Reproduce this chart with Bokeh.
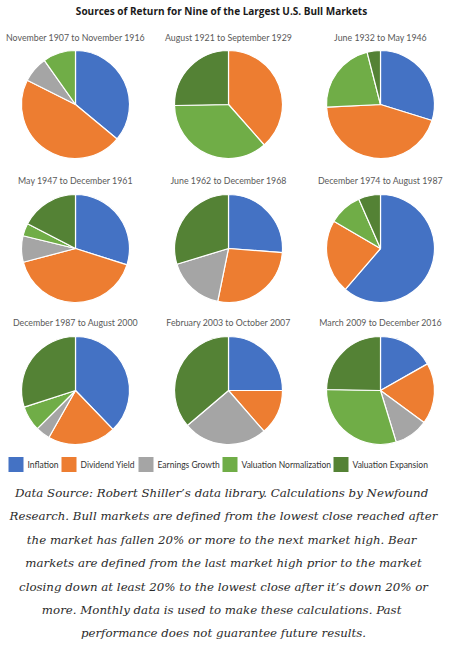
import numpy as np
from bokeh.plotting import figure
from bokeh.models import Range1d, ColumnDataSource
from bokeh.core.properties import value
from bokeh.embed import file_html
from bokeh.resources import INLINE

# ---- data ----
title = "Sources of Return for Nine of the Largest U.S. Bull Markets"
periods = [
    "November 1907 to November 1916",
    "August 1921 to September 1929",
    "June 1932 to May 1946",
    "May 1947 to December 1961",
    "June 1962 to December 1968",
    "December 1974 to August 1987",
    "December 1987 to August 2000",
    "February 2003 to October 2007",
    "March 2009 to December 2016",
]
components = ["Inflation", "Dividend Yield", "Earnings Growth",
              "Valuation Normalization", "Valuation Expansion"]
inflation      = [36.0, 0.0, 29.8, 29.9, 26.2, 61.3, 37.8, 25.0, 16.8]
dividend_yield = [46.4, 38.5, 44.4, 41.0, 27.0, 22.1, 20.4, 13.6, 18.3]
earnings       = [7.8, 0.0, 0.0, 7.9, 17.1, 0.0, 4.3, 25.2, 10.2]
val_norm       = [9.8, 36.2, 21.8, 3.8, 0.0, 10.0, 7.5, 0.0, 30.0]
val_exp        = [0.0, 25.3, 4.0, 17.4, 29.7, 6.6, 30.0, 36.2, 24.7]
colors = ["#4472C4", "#ED7D31", "#A5A5A5", "#70AD47", "#548235"]
footnote = [
    "Data Source: Robert Shiller\u2019s data library.  Calculations by Newfound",
    "Research. Bull markets are defined from the lowest close reached after",
    "the market has fallen 20% or more to the next market high.  Bear",
    "markets are defined from the last market high prior to the market",
    "closing down at least 20% to the lowest close after it\u2019s down 20% or",
    "more.  Monthly data is used to make these calculations. Past",
    "performance does not guarantee future results.",
]

# ---- layout (screen px) ----
W, H = 447, 649
def X(sx): return sx - 8
def Y(sy): return H + 8 - sy

col_x = [83, 236, 388]
row_y = [112, 256, 398]
title_y = [45, 188, 330]
R = 54

p = figure(width=W, height=H, x_range=Range1d(0, W), y_range=Range1d(0, H),
           output_backend="svg", toolbar_location=None,
           x_axis_type=None, y_axis_type=None, min_border=0)
p.grid.visible = False
p.outline_line_color = None
p.background_fill_color = "white"

p.text(x=[X(229)], y=[Y(18)], text=[title], text_align="center",
       text_baseline="middle", text_font=value("Open Sans"),
       text_font_style="bold", text_font_size="10px", text_color="#1a1a1a")

series = [inflation, dividend_yield, earnings, val_norm, val_exp]
for i, per in enumerate(periods):
    cx = X(col_x[i % 3]); cy = Y(row_y[i // 3]); ty = Y(title_y[i // 3])
    vals = np.array([s[i] for s in series], dtype=float)
    frac = vals / vals.sum()
    cum = np.concatenate([[0], np.cumsum(frac)])
    start = np.pi / 2 - 2 * np.pi * cum[:-1]
    end = np.pi / 2 - 2 * np.pi * cum[1:]
    keep = vals > 0
    src = ColumnDataSource(dict(x=[cx] * keep.sum(), y=[cy] * keep.sum(),
                                s=list(start[keep]), e=list(end[keep]),
                                c=[c for c, k in zip(colors, keep) if k]))
    p.wedge(x="x", y="y", radius=R, start_angle="s", end_angle="e",
            direction="clock", fill_color="c", line_color="white",
            line_width=1.2, source=src)
    p.text(x=[cx], y=[ty], text=[per], text_align="center",
           text_baseline="middle", text_font=value("Lato"),
           text_font_size="8.8px", text_color="#595959")

# legend
leg_sq_x = [16, 69, 146, 230, 341]
leg_y = 472
for c, lab, sx in zip(colors, components, leg_sq_x):
    p.rect(x=[X(sx + 7.5)], y=[Y(leg_y)], width=15, height=15,
           fill_color=c, line_color=None)
    p.text(x=[X(sx + 19)], y=[Y(leg_y)], text=[lab], text_align="left",
           text_baseline="middle", text_font=value("Lato"),
           text_font_size="8.5px", text_color="#333333")

# footnote
for k, line in enumerate(footnote):
    p.text(x=[X(231)], y=[Y(500.5 + 23.4 * k)], text=[line],
           text_align="center", text_baseline="middle",
           text_font=value("DejaVu Serif"), text_font_style="italic",
           text_font_size="11.8px", text_color="#2b2b2b")

open("out.html", "w").write(file_html(p, INLINE))
